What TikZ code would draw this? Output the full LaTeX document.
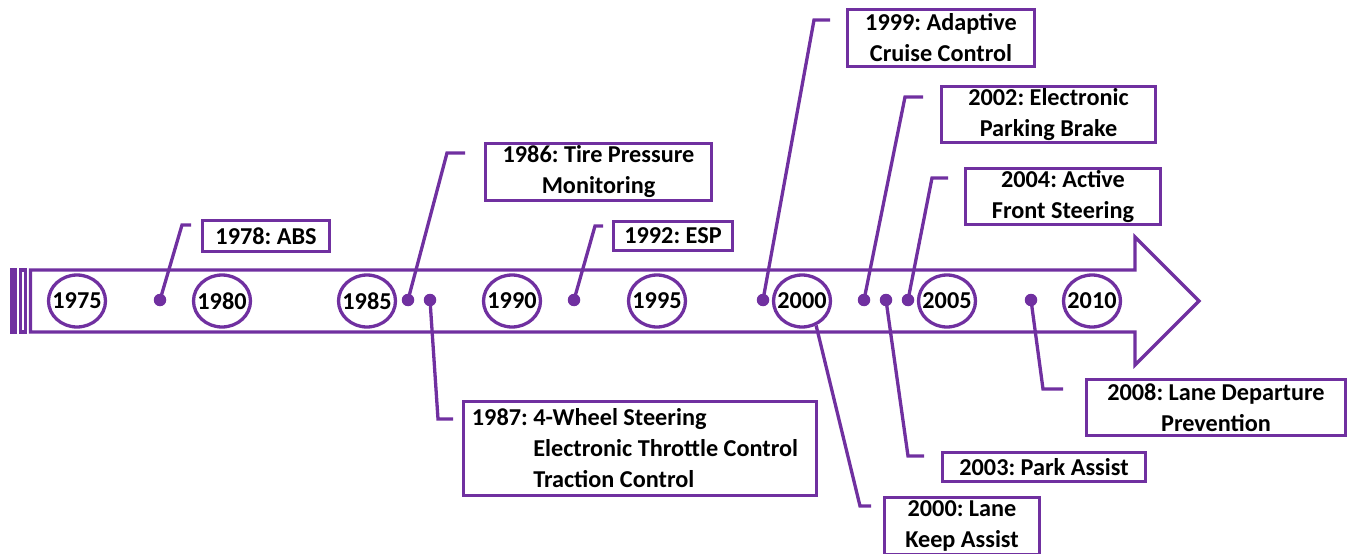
\documentclass[tikz,border=0pt]{standalone}
\usepackage{fontspec}
\setmainfont{Carlito}
\usepackage{tikz}
\usetikzlibrary{positioning, calc, shapes.geometric}
\usepackage{xcolor}
\definecolor{adasPurple}{HTML}{7030A0}
\frenchspacing

\begin{document}
\begin{tikzpicture}[x=0.02cm, y=-0.02cm,
            font=\fontsize{13.8}{17.6}\selectfont\bfseries,
            eventbox/.style={
              rectangle, draw=adasPurple, line width=0.066cm,
              align=center, inner sep=1pt, text=black
            },
            yearmark/.style={
              ellipse, draw=adasPurple, fill=white, line width=0.066cm,
              minimum width=1.14cm, minimum height=1.04cm, inner sep=0pt
            },
            eventdot/.style={
              circle, fill=adasPurple, inner sep=0pt, minimum size=0.25cm
            },
            leader/.style={
              draw=adasPurple, line width=0.066cm, line join=miter
            }
          ]
          \useasboundingbox (0,0) rectangle (1349,554);
          % Flecha rayada de la linea temporal
          \draw[adasPurple, line width=0.066cm, line join=miter]
            (30.5,270) -- (1135,270) -- (1135,237) -- (1199,301)
            -- (1135,365) -- (1135,332) -- (30.5,332) -- cycle;
          \filldraw[adasPurple, line width=0.066cm] (11.5,270) rectangle (15.5,332);
          \draw[adasPurple, line width=0.066cm] (20.5,270) rectangle (25.5,332);

          % Anos
          \node[yearmark] (y1975) at (77,301) {\makebox[0pt]{1975}};
          \node[yearmark] (y1980) at (222,301) {\makebox[0pt]{1980}};
          \node[yearmark] (y1985) at (367,301) {\makebox[0pt]{1985}};
          \node[yearmark] (y1990) at (512,301) {\makebox[0pt]{1990}};
          \node[yearmark] (y1995) at (657,301) {\makebox[0pt]{1995}};
          \node[yearmark] (y2000) at (802,301) {\makebox[0pt]{2000}};
          \node[yearmark] (y2005) at (947,301) {\makebox[0pt]{2005}};
          \node[yearmark] (y2010) at (1092,301) {\makebox[0pt]{2010}};

          % Cajas de eventos
          \node[eventbox, minimum width=2.54cm, minimum height=0.62cm]
            (b1978) at (266,236) {1978: ABS};
          \node[eventbox, minimum width=4.52cm, minimum height=1.14cm]
            (b1986) at (598.5,172) {1986: Tire Pressure\\Monitoring};
          \node[eventbox, minimum width=2.38cm, minimum height=0.58cm]
            (b1992) at (673,236) {1992: ESP};
          \node[eventbox, minimum width=3.74cm, minimum height=1.14cm]
            (b1999) at (941,38) {1999: Adaptive\\Cruise Control};
          \node[eventbox, minimum width=4.28cm, minimum height=1.12cm]
            (b2002) at (1048.5,114.5) {2002: Electronic\\Parking Brake};
          \node[eventbox, minimum width=3.90cm, minimum height=1.12cm]
            (b2004) at (1063,196.5) {2004: Active\\Front Steering};
          \node[eventbox, align=left, minimum width=7.06cm, minimum height=1.88cm]
            (b1987) at (640,448.5) {\hspace*{-0.2cm}1987: 4-Wheel Steering\\
            \hspace*{-0.2cm}\hphantom{1987: }Electronic Throttle Control\\
            \hspace*{-0.2cm}\hphantom{1987: }Traction Control};
          \node[eventbox, minimum width=3.10cm, minimum height=1.14cm]
            (b2000) at (962,526) {2000: Lane\\Keep Assist};
          \node[eventbox, minimum width=4.06cm, minimum height=0.58cm]
            (b2003) at (1044,467) {2003: Park Assist};
          \node[eventbox, minimum width=5.18cm, minimum height=1.12cm]
            (b2008) at (1216,407.5) {2008: Lane Departure\\Prevention};

          % Puntos sobre la flecha
          \node[eventdot] (d1978) at (160,300) {};
          \node[eventdot] (d1986) at (408,300) {};
          \node[eventdot] (d1987) at (430,300) {};
          \node[eventdot] (d1992) at (574,300) {};
          \node[eventdot] (d1999) at (763,300) {};
          \node[eventdot] (d2002) at (864,300) {};
          \node[eventdot] (d2003) at (886,300) {};
          \node[eventdot] (d2004) at (908,300) {};
          \node[eventdot] (d2008) at (1031,300) {};

          % Codos de las lineas guia
          \coordinate (k1978) at (182,225);  \coordinate (e1978) at (191,225);
          \coordinate (k1986) at (447,153);  \coordinate (e1986) at (465,153);
          \coordinate (k1987) at (438,419);  \coordinate (e1987) at (453,419);
          \coordinate (k1992) at (595,226);  \coordinate (e1992) at (603,226);
          \coordinate (k1999) at (814,20);   \coordinate (e1999) at (830,20);
          \coordinate (k2000) at (860,506);  \coordinate (e2000) at (871,506);
          \coordinate (k2002) at (905,97);   \coordinate (e2002) at (923,97);
          \coordinate (k2003) at (908,456);  \coordinate (e2003) at (924,456);
          \coordinate (k2004) at (932,178);  \coordinate (e2004) at (948,178);
          \coordinate (k2008) at (1043,389); \coordinate (e2008) at (1063,389);

          \draw[leader] (d1978.center) -- (k1978) -- (e1978);
          \draw[leader] (d1986.center) -- (k1986) -- (e1986);
          \draw[leader] (d1987.center) -- (k1987) -- (e1987);
          \draw[leader] (d1992.center) -- (k1992) -- (e1992);
          \draw[leader] (d1999.center) -- (k1999) -- (e1999);
          \draw[leader] (y2000.-60) -- (k2000) -- (e2000);
          \draw[leader] (d2002.center) -- (k2002) -- (e2002);
          \draw[leader] (d2003.center) -- (k2003) -- (e2003);
          \draw[leader] (d2004.center) -- (k2004) -- (e2004);
          \draw[leader] (d2008.center) -- (k2008) -- (e2008);
        \end{tikzpicture}
\end{document}
